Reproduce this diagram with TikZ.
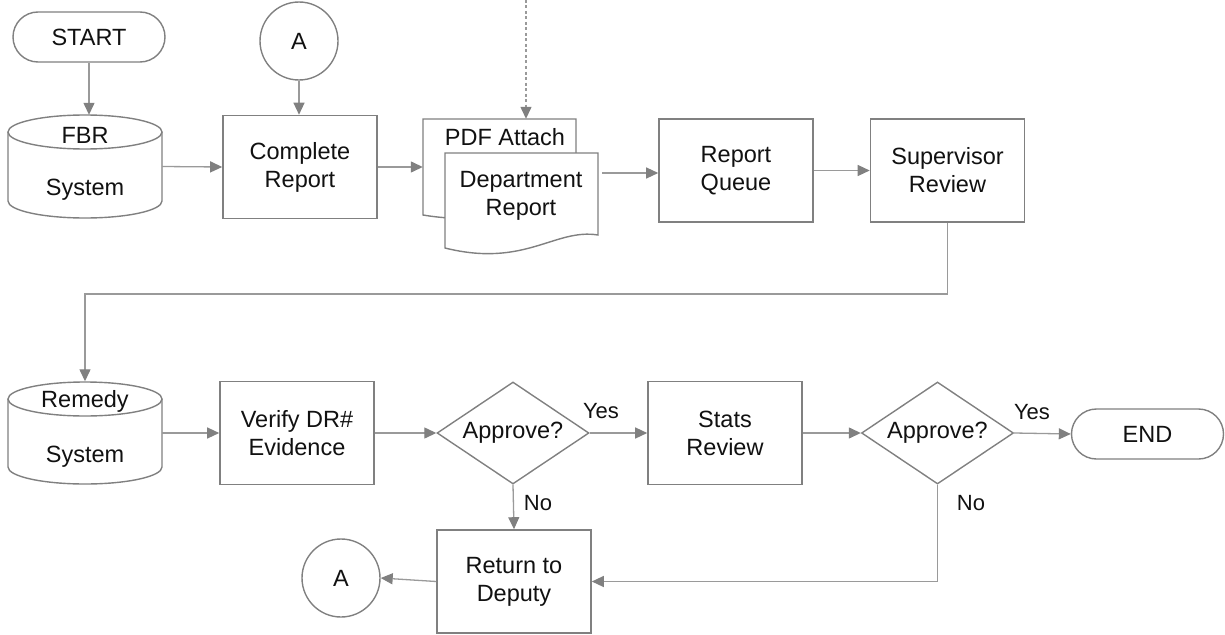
\documentclass[tikz,border=0pt]{standalone}
\usepackage{fontspec}
\setmainfont{Liberation Sans}
\usetikzlibrary{arrows.meta,shapes.geometric,calc}
\definecolor{bgray}{HTML}{808080}
\definecolor{lgray}{HTML}{9A9A9A}
\definecolor{tblack}{HTML}{111111}
\begin{document}
\begin{tikzpicture}[x=1pt,y=-1pt,
  every node/.style={font=\fontsize{23.5}{28}\selectfont, text=tblack},
  box/.style={draw=bgray, line width=1.6pt, fill=white, minimum width=154, minimum height=103, align=center, inner sep=0},
  term/.style={draw=bgray, line width=1.4pt, rounded corners=25pt, minimum width=152, minimum height=50, inner sep=0},
  conn/.style={draw=bgray, line width=1.4pt, circle, minimum size=78, inner sep=0},
  dec/.style={draw=bgray, line width=1.4pt, diamond, aspect=1.5, minimum width=152, minimum height=102, inner sep=1pt},
  ghost/.style={draw=none, minimum width=154, minimum height=103, inner sep=0},
  shp/.style={draw=bgray, line width=1.4pt, fill=white},
  arr/.style={draw=lgray, line width=1.3pt, -{Triangle[length=12pt,width=11pt,fill=bgray,color=bgray]}},
  lab/.style={font=\fontsize{22}{26}\selectfont}
]
\useasboundingbox (0,0) rectangle (1225,634);

% ---------- top row ----------
\node[term] (start) at (89,37) {START};
\node[conn] (a1) at (299,41) {A};

% FBR cylinder
\path[shp] (8,132) -- (8,201) .. controls (8,210.4) and (42.5,218) .. (85,218)
   .. controls (127.5,218) and (162,210.4) .. (162,201) -- (162,132);
\draw[shp] (85,132) ellipse [x radius=77, y radius=17];
\node[ghost] (fbr) at (85,166.5) {};
\node at (85,135) {FBR};
\node at (85,190) {System};

\node[box] (cr) at (300,167) {Complete\\Report};

% documents
\path[shp] (423,119) -- (576,119) -- (576,205) .. controls (540,198) and (500,228) .. (423,215) -- cycle;
\path[shp] (445,153) -- (598,153) -- (598,235) .. controls (555,228) and (525,268) .. (445,248) -- cycle;
\node[ghost, minimum width=153, minimum height=96] (pdf) at (499.5,167) {};
\node[ghost, minimum width=153, minimum height=95] (dept) at (521.5,200.5) {};
\node at (505,137) {PDF Attach};
\node[align=center] at (521,196) {Department\\Report};
\coordinate (dtop) at (526,0);

\node[box] (rq) at (736,170.5) {Report\\Queue};
\node[box] (sup) at (947.5,170.5) {Supervisor\\Review};

% ---------- bottom row ----------
\path[shp] (8,399) -- (8,467) .. controls (8,476.4) and (42.5,484) .. (85,484)
   .. controls (127.5,484) and (162,476.4) .. (162,467) -- (162,399);
\draw[shp] (85,399) ellipse [x radius=77, y radius=17];
\node[ghost] (rem) at (85,433) {};
\node at (85,401) {Remedy};
\node at (85,457) {System};

\node[box] (ver) at (297,433) {Verify DR\#\\Evidence};
\node[dec] (ap1) at (513,433) {Approve?};
\node[box] (stat) at (725,433) {Stats\\Review};
\node[dec] (ap2) at (937.5,433) {Approve?};
\node[term] (end) at (1147.5,434) {END};
\node[box] (ret) at (514,581.5) {Return to\\Deputy};
\node[conn] (a2) at (341,578) {A};

\coordinate (turn) at (0,294);

% ---------- connectors ----------
\draw[arr] (start.south) -- (start.south |- fbr.north);
\draw[arr] (a1.south) -- (a1.south |- cr.north);
\draw[arr] (fbr.east) -- (cr.west);
\draw[arr] (cr.east) -- (cr.east -| pdf.west);
\draw[arr, dash pattern=on 3pt off 2.5pt] (dtop) -- (dtop |- pdf.north);
\coordinate (dq) at ([shift={(4,-27.5)}]dept.east);
\draw[arr] (dq) -- (dq -| rq.west);
\draw[arr] (rq.east) -- (sup.west);
\draw[arr] (sup.south) -- (sup.south |- turn) -| (rem.north);

\draw[arr] (rem.east) -- (ver.west);
\draw[arr] (ver.east) -- (ap1.west);
\draw[arr] (ap1.east) -- (stat.west);
\draw[arr] (stat.east) -- (ap2.west);
\draw[arr] (ap2.east) -- (end.west);
\draw[arr] (ap1.south) -- (ret.north);
\draw[arr] (ap2.south) |- (ret.east);
\draw[arr] (ret.west) -- (a2.east);

% labels
\node[lab] at (601,411) {Yes};
\node[lab] at (538,503) {No};
\node[lab] at (1032,412) {Yes};
\node[lab] at (971,503) {No};
\end{tikzpicture}
\end{document}
